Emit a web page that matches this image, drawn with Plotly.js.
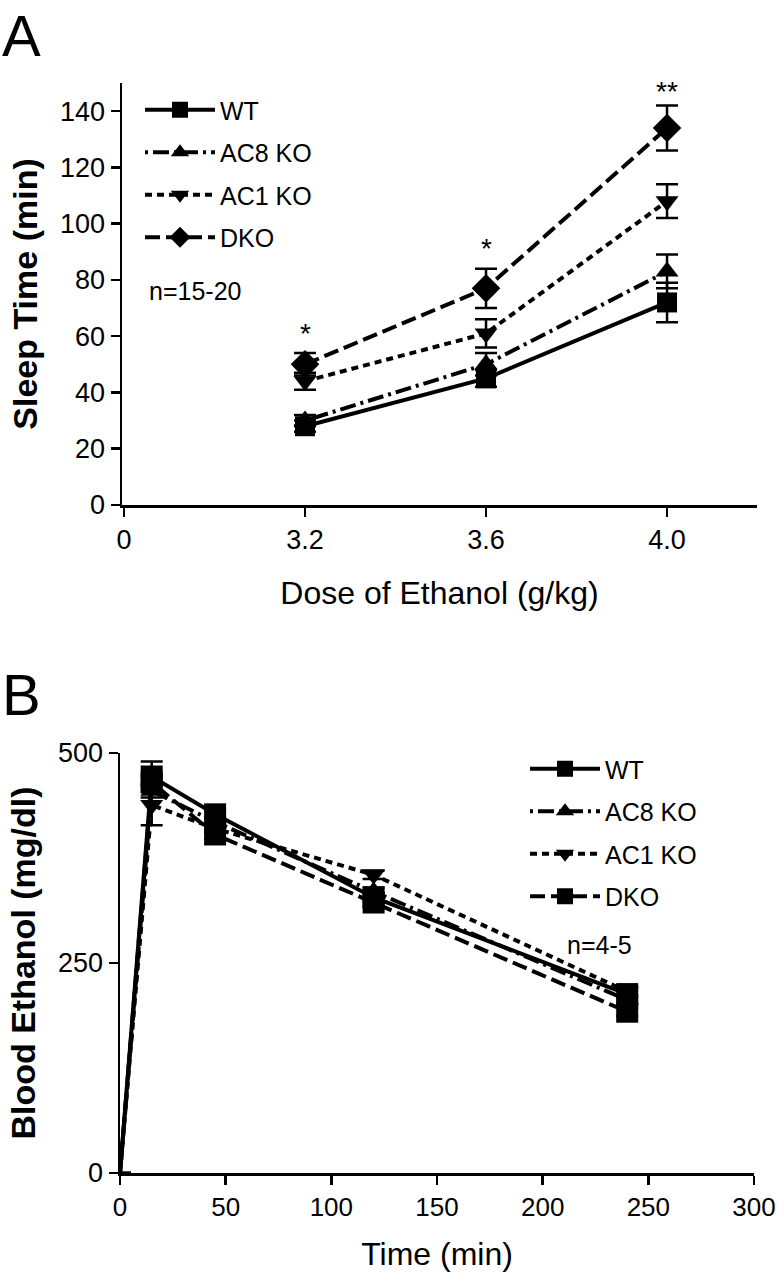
<!DOCTYPE html>
<html><head><meta charset="utf-8">
<script src="https://cdn.plot.ly/plotly-3.0.1.min.js"></script>
<style>html,body{margin:0;padding:0;background:#fff}#chart{width:778px;height:1280px}</style>
</head><body><div id="chart"></div>
<script>
// ---- Panel A: sleep time vs ethanol dose ----
const doseCategories = ['0', '3.2', '3.6', '4.0'];
const doses = ['3.2', '3.6', '4.0'];
const sleepWT = [28, 45, 72];
const sleepWTErr = [2, 3, 7];
const sleepAC8 = [30, 50, 83];
const sleepAC8Err = [2, 4, 6];
const sleepAC1 = [44, 61, 108];
const sleepAC1Err = [3, 5, 6];
const sleepDKO = [50, 77, 134];
const sleepDKOErr = [4, 7, 8];
const sigLabels = ['*', '*', '**'];
const sigHeights = [61, 91, 147];

// ---- Panel B: blood ethanol vs time ----
const times = [0, 15, 45, 120, 240];
const bloodWT = [0, 472, 427, 328, 213];
const bloodWTErr = [0, 18, 5, 5, 5];
const bloodAC8 = [0, 455, 418, 335, 206];
const bloodAC8Err = [0, 8, 5, 5, 5];
const bloodAC1 = [0, 438, 410, 355, 216];
const bloodAC1Err = [0, 24, 5, 5, 5];
const bloodDKO = [0, 465, 403, 322, 192];
const bloodDKOErr = [0, 8, 5, 5, 5];

const seriesNames = ['WT', 'AC8 KO', 'AC1 KO', 'DKO'];
const FONT = '"Liberation Sans", Arial, Helvetica, sans-serif';
const K = '#000';

const dashes = {
  solid: 'solid',
  dashdot: '3px,5px,16px,5px',
  dot: '7px,5px',
  dash: '15px,6px'
};
function errs(arr) { return {type: 'data', array: arr, visible: true, color: K, thickness: 2.5, width: 11}; }

const traces = [];
const aSeries = [
  [sleepWT, sleepWTErr, 'solid', 'square', 20],
  [sleepAC8, sleepAC8Err, 'dashdot', 'triangle-up', 20],
  [sleepAC1, sleepAC1Err, 'dot', 'triangle-down', 20],
  [sleepDKO, sleepDKOErr, 'dash', 'diamond', 22]
];
aSeries.forEach((s, i) => {
  traces.push({
    x: doses, y: s[0], error_y: errs(s[1]), xaxis: 'x', yaxis: 'y',
    type: 'scatter', mode: 'lines+markers', name: seriesNames[i], legend: 'legend',
    legendgroup: 'a' + i,
    line: {color: K, width: 4, dash: dashes[s[2]]},
    marker: {symbol: s[3], size: s[4], color: K, opacity: 1, line: {width: 0}}
  });
});
const bSeries = [
  [bloodWT, bloodWTErr, 'solid', 'square', 22],
  [bloodAC8, bloodAC8Err, 'dashdot', 'triangle-up', 20],
  [bloodAC1, bloodAC1Err, 'dot', 'triangle-down', 20],
  [bloodDKO, bloodDKOErr, 'dash', 'square', 22]
];
bSeries.forEach((s, i) => {
  traces.push({
    x: times, y: s[0], error_y: errs(s[1]), xaxis: 'x2', yaxis: 'y2',
    type: 'scatter', mode: 'lines+markers', name: seriesNames[i], legend: 'legend2',
    legendgroup: 'b' + i,
    line: {color: K, width: 4, dash: dashes[s[2]]},
    // no marker drawn at the t = 0 origin point
    marker: {symbol: s[3], size: times.map(t => (t === 0 ? 0 : s[4])), color: K, opacity: 1, line: {width: 0}}
  });
});

const axisCommon = {
  showgrid: false, zeroline: false, showline: true, linecolor: K, linewidth: 2.5,
  ticks: 'outside', ticklen: 9, tickwidth: 2.5, tickcolor: K,
  tickfont: {family: FONT, size: 27, color: K}, ticklabeloverflow: 'allow'
};

const annotations = [];
doses.forEach((d, i) => {
  annotations.push({xref: 'x', yref: 'y', x: doseCategories.indexOf(d), y: sigHeights[i], text: sigLabels[i], showarrow: false,
    font: {family: FONT, size: 28, color: K}});
});
annotations.push({xref: 'x', yref: 'y', x: 0.39, y: 76, text: 'n=15-20', showarrow: false,
  font: {family: FONT, size: 25, color: K}});
annotations.push({xref: 'x2', yref: 'y2', x: 227, y: 271, text: 'n=4-5', showarrow: false,
  font: {family: FONT, size: 25, color: K}});
annotations.push({xref: 'paper', yref: 'paper', x: 0, y: 0.999, xanchor: 'left', yanchor: 'top',
  text: 'A', showarrow: false, font: {family: FONT, size: 58, color: K}});
annotations.push({xref: 'paper', yref: 'paper', x: 0, y: 0.484, xanchor: 'left', yanchor: 'top',
  text: 'B', showarrow: false, font: {family: FONT, size: 58, color: K}});

const legendCommon = {
  xanchor: 'left', yanchor: 'top',
  bgcolor: 'rgba(0,0,0,0)', font: {family: FONT, size: 25, color: K},
  itemwidth: 70, tracegroupgap: 7, traceorder: 'grouped'
};

const layout = {
  width: 778, height: 1280,
  margin: {l: 0, r: 0, t: 0, b: 0},
  paper_bgcolor: '#fff', plot_bgcolor: '#fff',
  font: {family: FONT, color: K},
  showlegend: true,
  xaxis: Object.assign({}, axisCommon, {
    domain: [122 / 778, 757 / 778], anchor: 'y',
    type: 'category', categoryorder: 'array', categoryarray: doseCategories,
    range: [-0.011, 3.497],
    title: {text: 'Dose of Ethanol (g/kg)', font: {family: FONT, size: 32, color: K}, standoff: 28}
  }),
  yaxis: Object.assign({}, axisCommon, {
    domain: [1 - 505 / 1280, 1 - 83 / 1280], anchor: 'x',
    range: [0, 150], tickvals: [0, 20, 40, 60, 80, 100, 120, 140],
    title: {text: '<b>Sleep Time (min)</b>', font: {family: FONT, size: 34, color: K}, standoff: 12}
  }),
  xaxis2: Object.assign({}, axisCommon, {
    domain: [120 / 778, 754 / 778], anchor: 'y2',
    range: [0, 300], tickvals: [0, 50, 100, 150, 200, 250, 300],
    tickfont: {family: FONT, size: 26, color: K},
    title: {text: 'Time (min)', font: {family: FONT, size: 32, color: K}, standoff: 22}
  }),
  yaxis2: Object.assign({}, axisCommon, {
    domain: [1 - 1173 / 1280, 1 - 753 / 1280], anchor: 'x2',
    range: [0, 500], tickvals: [0, 250, 500],
    title: {text: '<b>Blood Ethanol (mg/dl)</b>', font: {family: FONT, size: 34, color: K}, standoff: 12}
  }),
  legend: Object.assign({}, legendCommon, {x: 140 / 778, y: 1 - 87 / 1280}),
  legend2: Object.assign({}, legendCommon, {x: 525 / 778, y: 1 - 746 / 1280}),
  annotations: annotations
};

Plotly.newPlot('chart', traces, layout, {staticPlot: true, displayModeBar: false});
</script>
</body></html>
